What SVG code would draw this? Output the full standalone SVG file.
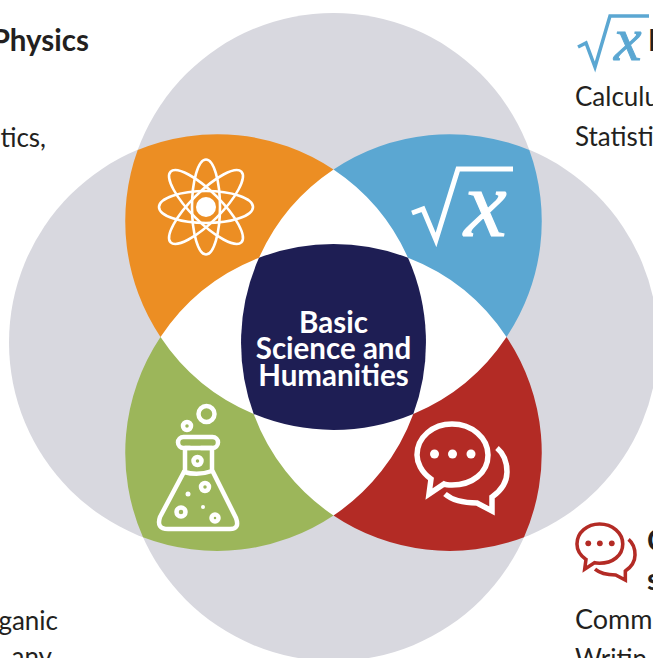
<svg xmlns="http://www.w3.org/2000/svg" width="653" height="658" viewBox="0 0 653 658">
<defs>
<style>
.disc{fill:#d8d8df}
.t{font-family:"Lato","Carlito","Liberation Sans",sans-serif;font-size:26px;fill:#231f20}
.b{font-family:"Lato","Carlito","Liberation Sans",sans-serif;font-size:29.5px;font-weight:700;fill:#231f20}
.c{font-family:"Lato","Carlito","Liberation Sans",sans-serif;font-size:29.5px;font-weight:700;fill:#fff;text-anchor:middle}
.w{fill:none;stroke:#fff;stroke-width:2.6}
.x{font-family:"Liberation Serif",serif;font-style:italic}
</style>
<g id="chat-glyph">
<g fill="none" stroke="currentColor" stroke-width="5.5">
<path d="M431 479C421 472 417 462 417 455C417 437 433 424 452 424C472 424 488 438 488 455C488 473 472 485 452 485C449 485 446 485 444 484L429 494Z"/>
<path d="M445 494C452 500 462 503 477 503L492 511L492 497C502 490 507 481 507 472C507 462 503 453 497 448"/>
</g>
<g fill="currentColor">
<circle cx="434.500" cy="454" r="4.500"/>
<circle cx="452.500" cy="454" r="4.500"/>
<circle cx="471" cy="454" r="4.500"/>
</g>
</g>
</defs>
<g id="background">
<circle class="disc" cx="333.5" cy="221.5" r="208.5"/>
<circle class="disc" cx="333.5" cy="452.5" r="208.5"/>
<circle class="disc" cx="217.5" cy="342.5" r="208.5"/>
<circle class="disc" cx="449.5" cy="342.5" r="208.5"/>
<path id="white-core" fill="#fff" d="M333.5 169.5A208.5 208.5 0 0 1 506.5 337A208.5 208.5 0 0 1 333.5 515.5A208.5 208.5 0 0 1 160.5 337A208.5 208.5 0 0 1 333.5 169.5Z"/>
</g>
<g id="orange-node">
<path fill="#ec8e23" d="M137.7 150A208.5 208.5 0 0 1 333.5 169.5A208.5 208.5 0 0 0 259 257.8A208.5 208.5 0 0 0 160.5 337A208.5 208.5 0 0 1 137.7 150Z"/>
<g class="w">
<ellipse cx="206" cy="207" rx="14" ry="47.500"/>
<ellipse cx="206" cy="207" rx="47" ry="16"/>
<ellipse cx="206" cy="207" rx="15" ry="50" transform="rotate(45 206 207)"/>
<ellipse cx="206" cy="207" rx="15" ry="50" transform="rotate(-45 206 207)"/>
</g>
<circle cx="206" cy="207" r="10" fill="#fff"/>
</g>
<g id="blue-node">
<path fill="#5ba7d2" d="M333.5 169.5A208.5 208.5 0 0 1 529.3 150A208.5 208.5 0 0 1 506.5 337A208.5 208.5 0 0 0 408 257.8A208.5 208.5 0 0 0 333.5 169.5Z"/>
<path d="M412 213L423 209L436 240L458 169H513" fill="none" stroke="#fff" stroke-width="5" stroke-miterlimit="10"/>
<text class="x" x="464" y="236" font-size="96" fill="#fff" stroke="#fff" stroke-width="1.2">x</text>
</g>
<g id="green-node">
<path fill="#9cb65a" d="M160.5 337A208.5 208.5 0 0 0 253.7 414A208.5 208.5 0 0 0 333.5 515.5A208.5 208.5 0 0 1 143 537.2A208.5 208.5 0 0 1 160.5 337Z"/>
<g fill="none" stroke="#fff" stroke-width="4.5" stroke-linejoin="round" stroke-linecap="round">
<rect x="178" y="437" width="40" height="11" rx="5.5"/>
<path d="M190 448H185V470L160 517Q156 529 168 529H230Q240 529 236 518L212 470V448H201"/>
<path d="M184 472Q198 476 212 471"/>
<circle cx="206.500" cy="414" r="8"/>
<circle cx="187" cy="426" r="4"/>
<circle cx="197.500" cy="461" r="4"/>
<circle cx="205" cy="487" r="4"/>
<circle cx="181" cy="512" r="4.500"/>
<circle cx="215" cy="518" r="3.500"/>
</g>
<circle cx="188" cy="494" r="2.500" fill="#fff"/>
<circle cx="203" cy="507" r="2" fill="#fff"/>
</g>
<g id="red-node">
<path fill="#b32b25" d="M506.5 337A208.500 208.500 0 0 1 524 537.2A208.5 208.5 0 0 1 333.5 515.5A208.5 208.5 0 0 0 413.3 414A208.5 208.5 0 0 0 506.5 337Z"/>
<use href="#chat-glyph" style="color:#fff"/>
</g>
<g id="center-node">
<path fill="#1e1e54" d="M259 257.800A208.500 208.500 0 0 1 408 257.800A208.500 208.500 0 0 1 413.300 414A208.500 208.500 0 0 1 253.700 414A208.500 208.500 0 0 1 259 257.800Z"/>
<text class="c" x="333.500" y="333">Basic</text>
<text class="c" x="333.500" y="359">Science and</text>
<text class="c" x="333.500" y="386">Humanities</text>
</g>
<g id="labels">
<text class="b" x="89" y="51" text-anchor="end">Physics</text>
<text class="t" x="46" y="147" text-anchor="end">tics,</text>
<text class="t" x="58" y="630" text-anchor="end">ganic</text>
<text class="t" x="52" y="666" text-anchor="end">any</text>
<text class="b" x="648" y="51">M</text>
<text class="t" x="575" y="106">Calculu</text>
<text class="t" x="575" y="146">Statisti</text>
<text class="b" x="647" y="551">C</text>
<text class="b" x="647" y="590">s</text>
<text class="t" x="575" y="629" style="font-size:27px">Comm</text>
<text class="t" x="575" y="668">Writin</text>
</g>
<g id="small-icons">
<path d="M578 47L586 43L595 67L610 16H649" fill="none" stroke="#5ba7d2" stroke-width="3.500"/>
<text class="x" x="614" y="60" font-size="62" fill="#5ba7d2" stroke="#5ba7d2" stroke-width="1">x</text>
<use href="#chat-glyph" transform="translate(308 250.500) scale(.645)" style="color:#b32b25"/>
</g>
</svg>
